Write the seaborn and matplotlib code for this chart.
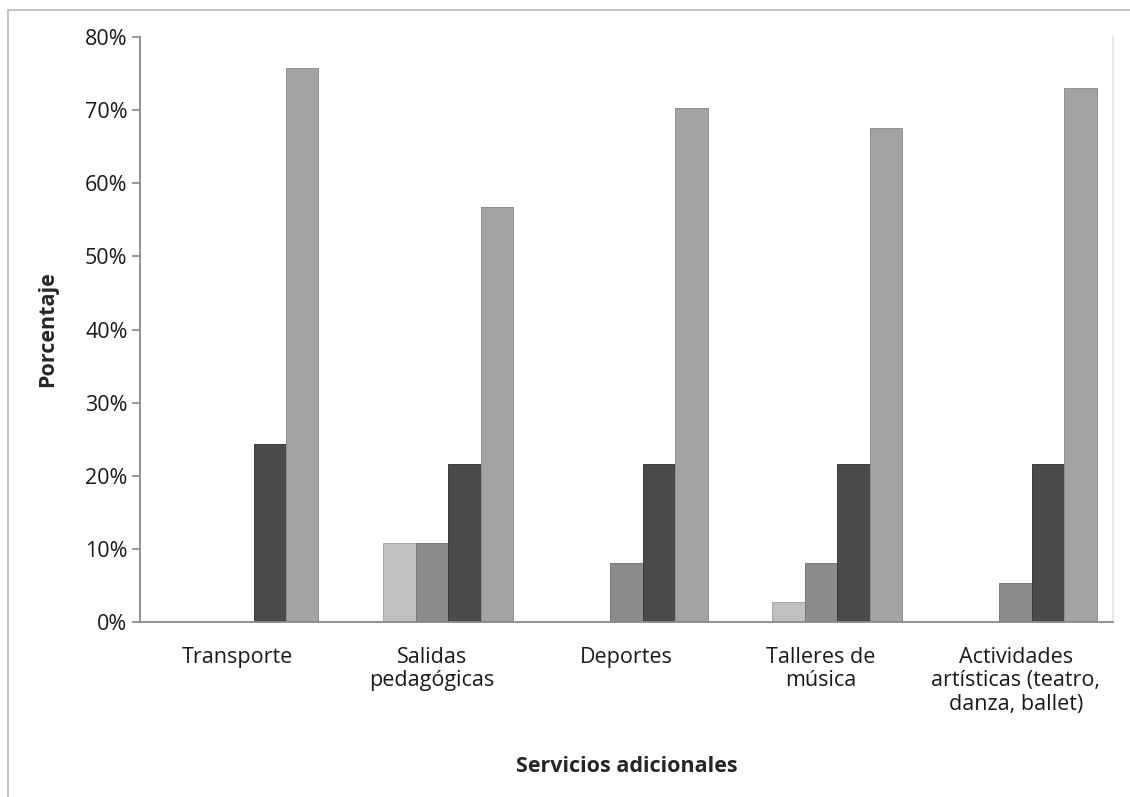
import numpy as np
import pandas as pd
import matplotlib
matplotlib.use("Agg")
import matplotlib.pyplot as plt
import seaborn as sns
from matplotlib.patches import Rectangle
from matplotlib.ticker import PercentFormatter

# ─── Data ─────────────────────────────────────────────────────────────────────
CATEGORIES = [
    "Transporte",
    "Salidas\npedagógicas",
    "Deportes",
    "Talleres de\nmúsica",
    "Actividades\nartísticas (teatro,\ndanza, ballet)",
]
SERIES = ["Serie 1", "Serie 2", "Serie 3", "Serie 4", "Serie 5"]
serie_1 = [0.0, 0.0, 0.0, 0.0, 0.0]
serie_2 = [0.0, 10.8, 0.0, 2.7, 0.0]
serie_3 = [0.0, 10.8, 8.1, 8.1, 5.4]
serie_4 = [24.3, 21.6, 21.6, 21.6, 21.6]
serie_5 = [75.7, 56.8, 70.3, 67.6, 73.0]
Y_TICKS = [0, 10, 20, 30, 40, 50, 60, 70, 80]

COLORS = ["#d9d9d9", "#c0c0c0", "#8c8c8c", "#4a4a4a", "#a3a3a3"]
EDGES = ["#b0b0b0", "#a8a8a8", "#787878", "#3a3a3a", "#8e8e8e"]

rows = []
for name, vals in zip(SERIES, [serie_1, serie_2, serie_3, serie_4, serie_5]):
    for cat, v in zip(CATEGORIES, vals):
        rows.append({"cat": cat, "serie": name, "val": v})
df = pd.DataFrame(rows)

# ─── Plot ─────────────────────────────────────────────────────────────────────
sns.set_style("white")
plt.rcParams["font.family"] = ["Open Sans", "DejaVu Sans"]
FS = 15.5

fig = plt.figure(figsize=(11.30, 7.97), dpi=100)
ax = fig.add_axes([140 / 1130, 1 - 622 / 797, (1113 - 140) / 1130, (622 - 37) / 797])

sns.barplot(data=df, x="cat", y="val", hue="serie", order=CATEGORIES,
            hue_order=SERIES, palette=COLORS, width=0.833, gap=0,
            legend=False, ax=ax)

for patch_group, edge in zip(ax.containers, EDGES):
    for p in patch_group:
        p.set_edgecolor(edge)
        p.set_linewidth(0.7)

ax.set_xlim(-0.5, len(CATEGORIES) - 0.5)
ax.set_ylim(0, 80)
ax.set_yticks(Y_TICKS)
ax.yaxis.set_major_formatter(PercentFormatter(decimals=0))

ax.set_xticks(range(len(CATEGORIES)))
ax.set_xticklabels(CATEGORIES, fontsize=FS, color="#1a1a1a", linespacing=1.15, va="top")
ax.set_xticks(np.arange(-0.5, len(CATEGORIES)), minor=True)
ax.tick_params(axis="x", which="major", length=0, pad=18)
ax.tick_params(axis="x", which="minor", length=6, width=1.2, color="#888888", direction="out")
ax.tick_params(axis="y", length=6, width=1.2, color="#888888", direction="out",
               labelsize=FS, labelcolor="#1a1a1a", pad=3, left=True)

for side in ["left", "bottom"]:
    ax.spines[side].set_color("#888888")
    ax.spines[side].set_linewidth(1.3)
ax.spines["top"].set_visible(False)
ax.spines["right"].set_color("#e3e3e3")
ax.spines["right"].set_linewidth(1.3)

ax.set_xlabel("Servicios adicionales", fontsize=FS, fontweight="bold", labelpad=30)
ax.set_ylabel("Porcentaje", fontsize=FS, fontweight="bold", labelpad=19)

# outer frame of the chart area
fig.patches.append(Rectangle((8 / 1130, -0.1), 1.2, 1.1 - 10 / 797,
                             transform=fig.transFigure, fill=False,
                             edgecolor="#bdbdbd", linewidth=1.3))

fig.savefig("out.png", dpi=100)
